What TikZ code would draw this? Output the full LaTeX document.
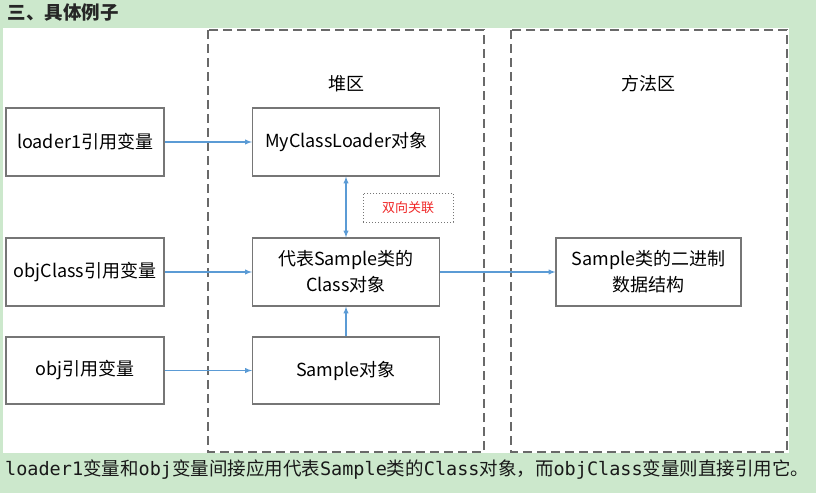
\documentclass[tikz,border=0pt]{standalone}
\usepackage{fontspec}
\setmainfont{Noto Sans CJK SC}
\newfontfamily\cjk{Noto Sans CJK SC}
\newfontfamily\mono{DejaVu Sans Mono}
\definecolor{bggreen}{RGB}{204,232,204}
\definecolor{boxgray}{RGB}{118,118,118}
\definecolor{dashgray}{RGB}{105,105,105}
\definecolor{arrowblue}{RGB}{91,155,213}
\definecolor{linkred}{RGB}{240,40,40}
\tikzset{
  varbox/.style={draw=boxgray,line width=1.2pt,minimum width=158pt,minimum height=68pt,
    inner sep=0pt,align=center,font=\fontsize{18}{26}\selectfont},
  objbox/.style={varbox,minimum width=187pt},
  area/.style={draw=dashgray,line width=2pt,dash pattern=on 9pt off 5pt},
  ref/.style={->,draw=arrowblue,line width=1.3pt},
}
\begin{document}
\begin{tikzpicture}[x=1pt,y=-1pt,>=latex]
\useasboundingbox (0,0) rectangle (816,493);
\fill[bggreen] (0,0) rectangle (816,493);
\fill[white] (3,28) rectangle (789,453);
\draw[area] (208,30) rectangle (484,452);
\draw[area] (511,30) rectangle (787,452);
\path
(4,13)    node[anchor=west,font=\fontsize{18.5}{20}\selectfont\bfseries,text=black!85] (title) {三、具体例子}
(346,84)  node[font=\fontsize{18}{20}\selectfont] (heap) {堆区}
(648,84)  node[font=\fontsize{18}{20}\selectfont] (method) {方法区}
(85,142)  node[varbox] (loaderVar) {loader1引用变量}
+(0,130)  node[varbox] (clsVar) {objClass引用变量}
+(0,228.5) node[varbox,minimum height=67pt] (objVar) {obj引用变量}
(346,142) node[objbox] (loaderObj) {MyClassLoader对象}
+(0,130)  node[objbox] (clsObj) {代表Sample类的\\Class对象}
+(0,228.5) node[objbox,minimum height=67pt] (sampleObj) {Sample对象}
(648.5,272) node[objbox,minimum width=185pt] (binData) {Sample类的二进制\\数据结构}
(408,207.5) node[draw=boxgray,line width=1pt,dotted,minimum width=90pt,minimum height=29pt,
            inner sep=0pt,text=linkred,font=\fontsize{13}{15}\selectfont] (dual) {双向关联}
(5,470)   node[anchor=west,inner sep=0pt,text=black!90,font=\fontsize{18.5}{20}\selectfont] (note)
  {{\mono loader1}{\cjk 变量和}{\mono obj}{\cjk 变量间接应用代表}{\mono Sample}{\cjk 类的}{\mono Class}{\cjk 对象，而}{\mono objClass}{\cjk 变量则直接引用它。}};
\draw[ref] (loaderVar)--(loaderObj);
\draw[ref] (clsVar)--(clsObj);
\draw[ref] (objVar)--(sampleObj);
\draw[ref] (clsObj)--(binData);
\draw[ref] (sampleObj)--(clsObj);
\draw[ref,<->] (loaderObj)--(clsObj);
\end{tikzpicture}
\end{document}
